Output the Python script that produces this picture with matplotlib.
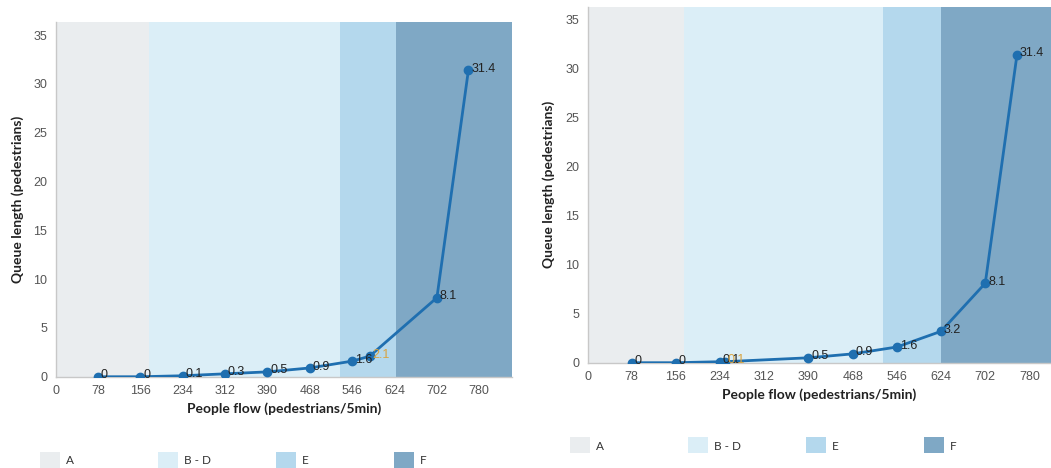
import matplotlib.pyplot as plt
from matplotlib.patches import Rectangle

# LOS band limits (people flow, pedestrians/5min)
band_names = ['A', 'B - D', 'E', 'F']
band_colors = ['#eaedef', '#dbeef7', '#b4d8ed', '#7fa8c5']
bands_left = [0, 172, 523, 626, 900]
bands_right = [0, 171, 522, 624, 900]

# left scenario
flow_left = [78, 156, 234, 312, 390, 468, 546, 702, 760]
queue_left = [0, 0, 0.1, 0.3, 0.5, 0.9, 1.6, 8.1, 31.4]
extra_flow_left = [578]
extra_queue_left = [2.1]

# right scenario
flow_right = [78, 156, 234, 390, 468, 546, 624, 702, 758]
queue_right = [0, 0, 0.1, 0.5, 0.9, 1.6, 3.2, 8.1, 31.4]
extra_flow_right = [242]
extra_queue_right = [0.1]

xticks = [0, 78, 156, 234, 312, 390, 468, 546, 624, 702, 780]
yticks = [0, 5, 10, 15, 20, 25, 30, 35]

LINE = '#1f6fb0'
LABEL_FONT = ['Liberation Sans', 'DejaVu Sans']
AXIS_FONT = ['Lato', 'DejaVu Sans']


def fmt(v):
    return f'{v:g}'


def draw_panel(ax, bands, flow, queue, eflow, equeue, xmax):
    for i, name in enumerate(band_names):
        ax.axvspan(bands[i], bands[i + 1], color=band_colors[i], lw=0, zorder=0)

    pts = sorted(zip(flow + eflow, queue + equeue))
    ax.plot([p[0] for p in pts], [p[1] for p in pts], color=LINE, lw=2,
            marker='o', ms=6, zorder=3)
    for x, y in zip(flow, queue):
        ax.annotate(fmt(y), (x, y), xytext=(2, 1), textcoords='offset points',
                    va='center', ha='left', fontsize=9, color='#222222',
                    family=LABEL_FONT, zorder=4)
    for x, y in zip(eflow, equeue):
        ax.annotate(fmt(y), (x, y), xytext=(2, 1), textcoords='offset points',
                    va='center', ha='left', fontsize=9, color='#d9a441',
                    family=LABEL_FONT, zorder=4)

    ax.set_xlim(0, xmax)
    ax.set_ylim(0, 36.3)
    ax.set_xticks(xticks)
    ax.set_yticks(yticks)
    ax.tick_params(length=0, labelsize=9, labelcolor='#555555', pad=6)
    for lab in ax.get_xticklabels() + ax.get_yticklabels():
        lab.set_family(LABEL_FONT)
    for s in ['top', 'right']:
        ax.spines[s].set_visible(False)
    for s in ['left', 'bottom']:
        ax.spines[s].set_color('#c8c8c8')
        ax.spines[s].set_linewidth(1)
    ax.set_xlabel('People flow (pedestrians/5min)', fontsize=10,
                  fontweight='bold', family=AXIS_FONT, color='#222222', labelpad=4)
    ax.set_ylabel('Queue length (pedestrians)', fontsize=10,
                  fontweight='bold', family=AXIS_FONT, color='#222222', labelpad=7)


def draw_legend(fig, x0, y0, step):
    W, H = 1051, 468
    for i, name in enumerate(band_names):
        x = x0 + i * step
        fig.patches.append(Rectangle((x / W, 1 - (y0 + 16) / H), 20 / W, 16 / H,
                                     transform=fig.transFigure,
                                     color=band_colors[i], lw=0))
        fig.text((x + 26) / W, 1 - (y0 + 9) / H, name, fontsize=8.5,
                 family=AXIS_FONT, color='#333333', va='center', ha='left')


fig = plt.figure(figsize=(10.51, 4.68), dpi=100)

ax1 = fig.add_axes([0.053, 0.195, 0.434, 0.757])
draw_panel(ax1, bands_left, flow_left, queue_left,
           extra_flow_left, extra_queue_left, 840)

ax2 = fig.add_axes([0.559, 0.225, 0.441, 0.761])
draw_panel(ax2, bands_right, flow_right, queue_right,
           extra_flow_right, extra_queue_right, 818)

draw_legend(fig, 40, 452, 118)
draw_legend(fig, 570, 437, 118)

fig.savefig('out.png', dpi=100)
